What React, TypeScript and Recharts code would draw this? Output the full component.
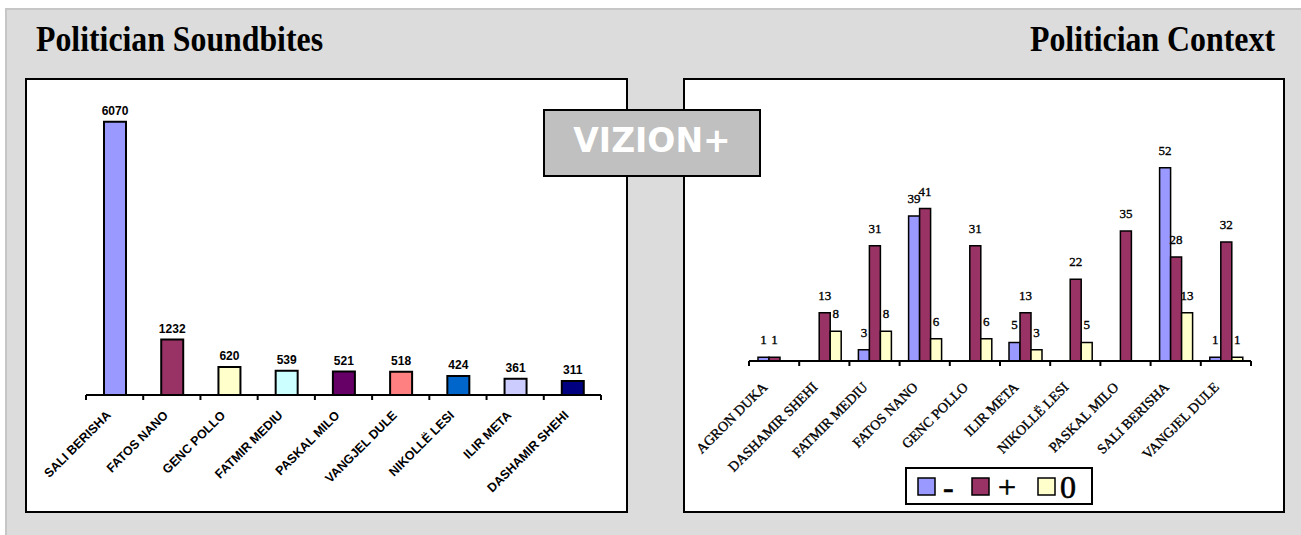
import React from 'react';
import { BarChart, Bar, XAxis, YAxis, Cell, LabelList } from 'recharts';

const soundbiteNames = ['SALI BERISHA', 'FATOS NANO', 'GENC POLLO', 'FATMIR MEDIU', 'PASKAL MILO', 'VANGJEL DULE', 'NIKOLLË LESI', 'ILIR META', 'DASHAMIR SHEHI'];
const soundbiteValues = [6070, 1232, 620, 539, 521, 518, 424, 361, 311];
const soundbiteColors = ['#9999FF', '#993366', '#FFFFCC', '#CCFFFF', '#660066', '#FF8080', '#0066CC', '#CCCCFF', '#000080'];

const contextNames = ['AGRON DUKA', 'DASHAMIR SHEHI', 'FATMIR MEDIU', 'FATOS NANO', 'GENC POLLO', 'ILIR META', 'NIKOLLË LESI', 'PASKAL MILO', 'SALI BERISHA', 'VANGJEL DULE'];
const contextNegative = [1, null, 3, 39, null, 5, null, null, 52, 1];
const contextPositive = [1, 13, 31, 41, 31, 13, 22, 35, 28, 32];
const contextNeutral = [null, 8, 8, 6, 6, 3, 5, null, 13, 1];

const contextSeries = [
  { key: 'neg', name: '-', color: '#9999FF', values: contextNegative },
  { key: 'pos', name: '+', color: '#993366', values: contextPositive },
  { key: 'neu', name: '0', color: '#FFFFCC', values: contextNeutral },
];

const soundbiteData = soundbiteNames.map((name, i) => ({ name, value: soundbiteValues[i] }));
const contextData = contextNames.map((name, i) => {
  const row: any = { name };
  contextSeries.forEach((s) => { row[s.key] = s.values[i]; });
  return row;
});

const SERIF = '"Liberation Serif", "Times New Roman", serif';
const SANS = '"Liberation Sans", Arial, sans-serif';

function makeTick(count: number, fallbackHalf: number, dx: number, dy: number, font: any) {
  return (props: any) => {
    const { x, y, payload, index } = props;
    const half = payload && typeof payload.offset === 'number' && payload.offset > 0 ? payload.offset : fallbackHalf;
    const ax = x - dx;
    const ay = y + dy;
    return (
      <g>
        <line x1={x - half} x2={x - half} y1={y} y2={y + 5} stroke="#000" strokeWidth={2} />
        {index === count - 1 && <line x1={x + half} x2={x + half} y1={y} y2={y + 5} stroke="#000" strokeWidth={2} />}
        <text x={ax} y={ay} transform={`rotate(-45 ${ax} ${ay})`} textAnchor="end" fill="#000" {...font}>
          {payload.value}
        </text>
      </g>
    );
  };
}

function makeLabel(offset: number, font: any) {
  return (props: any) => {
    const { x, y, width, value } = props;
    if (value === null || value === undefined || value === 0) return null;
    return (
      <text x={Number(x) + Number(width) / 2} y={Number(y) - offset} textAnchor="middle" fill="#000" {...font}>
        {value}
      </text>
    );
  };
}

const SoundTick = makeTick(soundbiteNames.length, 28.6, 3, 21, { fontFamily: SANS, fontWeight: 'bold', fontSize: 12.5 });
const ContextTick = makeTick(contextNames.length, 25.1, 6, 27, { fontFamily: SERIF, fontSize: 14, stroke: '#000', strokeWidth: 0.35 });
const SoundLabel = makeLabel(7, { fontFamily: SANS, fontWeight: 'bold', fontSize: 12 });
const ContextLabel = makeLabel(13, { fontFamily: SERIF, fontSize: 13, stroke: '#000', strokeWidth: 0.35 });

export default function App() {
  return (
    <div style={{ position: 'absolute', left: 0, top: 0, width: 1301, height: 535, background: '#fff', overflow: 'hidden' }}>
      <svg width={1301} height={535} style={{ position: 'absolute', left: 0, top: 0 }}>
        <rect x={6} y={9} width={1310} height={540} fill="#dcdcdc" stroke="#c6c6c6" strokeWidth={2} />
        <text x={36} y={51} fontFamily={SERIF} fontWeight="bold" fontSize={35} textLength={287} lengthAdjust="spacingAndGlyphs" fill="#000">Politician Soundbites</text>
        <text x={1030} y={51} fontFamily={SERIF} fontWeight="bold" fontSize={35} textLength={245} lengthAdjust="spacingAndGlyphs" fill="#000">Politician Context</text>
        <rect x={26} y={79} width={601} height={433} fill="#fff" stroke="#000" strokeWidth={2} />
        <rect x={684} y={79} width={600} height={433} fill="#fff" stroke="#000" strokeWidth={2} />
      </svg>

      <div style={{ position: 'absolute', left: 25, top: 78 }}>
        <BarChart width={603} height={436} data={soundbiteData} margin={{ top: 2, right: 27, bottom: 0, left: 61 }}>
          <YAxis hide domain={[0, 7000]} />
          <XAxis
            dataKey="name"
            interval={0}
            height={119}
            tickSize={0}
            tickMargin={0}
            tickLine={false}
            axisLine={{ stroke: '#000', strokeWidth: 2 }}
            tick={SoundTick}
          />
          <Bar dataKey="value" barSize={22} stroke="#000" strokeWidth={2} isAnimationActive={false}>
            {soundbiteData.map((d, i) => (
              <Cell key={d.name} fill={soundbiteColors[i]} />
            ))}
            <LabelList dataKey="value" content={SoundLabel} />
          </Bar>
        </BarChart>
      </div>

      <div style={{ position: 'absolute', left: 683, top: 78 }}>
        <BarChart width={602} height={436} data={contextData} barGap={0} margin={{ top: 60, right: 34, bottom: 0, left: 66 }}>
          <YAxis hide domain={[0, 60]} />
          <XAxis
            dataKey="name"
            interval={0}
            height={153}
            tickSize={0}
            tickMargin={0}
            tickLine={false}
            axisLine={{ stroke: '#000', strokeWidth: 2 }}
            tick={ContextTick}
          />
          {contextSeries.map((s) => (
            <Bar key={s.key} dataKey={s.key} name={s.name} fill={s.color} barSize={11} stroke="#000" strokeWidth={1.5} isAnimationActive={false}>
              <LabelList dataKey={s.key} content={ContextLabel} />
            </Bar>
          ))}
        </BarChart>
      </div>

      <svg width={188} height={38} style={{ position: 'absolute', left: 905, top: 467 }}>
        <rect x={1} y={1} width={186} height={36} fill="#fff" stroke="#000" strokeWidth={2} />
        {contextSeries.map((s, i) => {
          const sx = [13, 67, 133][i];
          const tx = [38, 93, 155][i];
          return (
            <g key={s.key}>
              <rect x={sx} y={11} width={17} height={17} fill={s.color} stroke="#000" strokeWidth={1.5} />
              <text x={tx} y={31} fontFamily={SERIF} fontSize={32} fill="#000" stroke="#000" strokeWidth={0.6}>{s.name}</text>
            </g>
          );
        })}
      </svg>

      <div
        style={{
          position: 'absolute', left: 543, top: 109, width: 218, height: 68, boxSizing: 'border-box',
          background: '#c0c0c0', border: '2px solid #000', display: 'flex', alignItems: 'center', justifyContent: 'center',
          color: '#fff', fontFamily: '"DejaVu Sans", Verdana, sans-serif', fontWeight: 'bold', fontSize: 33, paddingBottom: 5,
        }}
      >
        VIZION+
      </div>
    </div>
  );
}
